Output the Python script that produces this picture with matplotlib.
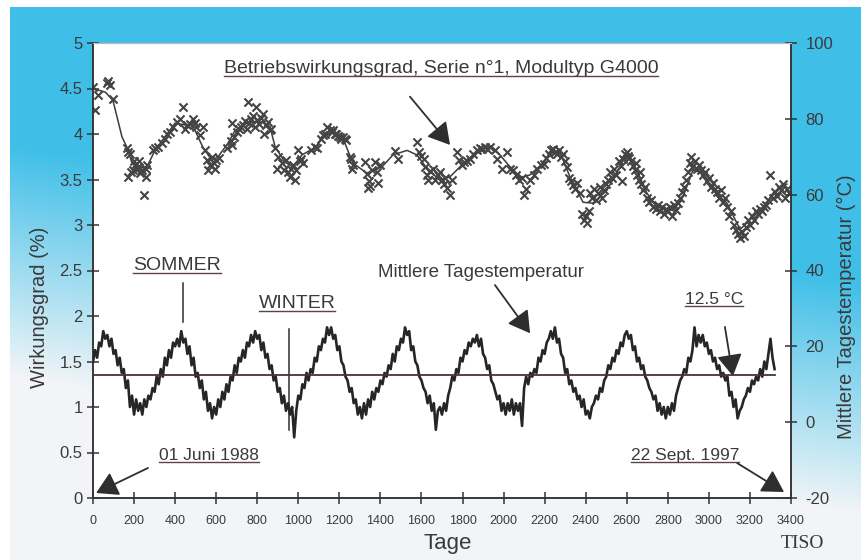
import matplotlib
matplotlib.use('Agg')
import matplotlib.pyplot as plt
from matplotlib.lines import Line2D
import numpy as np

plt.rcParams['font.family'] = ['Liberation Sans', 'DejaVu Sans']
plt.rcParams['axes.unicode_minus'] = False

# mittlere Tagestemperatur (°C), alle 10 Tage ab Tag 0
temp_step = 10
temp_vals = [
    16, 19, 17, 21, 20, 24, 22, 23, 20, 22,
    18, 19, 15, 17, 13, 14, 9, 11, 4, 7,
    2, 6, 3, 5, 2, 6, 4, 7, 6, 9,
    8, 12, 10, 14, 12, 17, 15, 19, 17, 21,
    20, 22, 20, 24, 21, 22, 18, 20, 15, 17,
    12, 13, 9, 11, 6, 8, 3, 5, 1, 4,
    2, 6, 4, 8, 6, 10, 8, 12, 11, 15,
    13, 17, 16, 19, 17, 21, 20, 23, 21, 24,
    22, 23, 19, 21, 17, 18, 14, 15, 11, 12,
    8, 9, 5, 7, 3, 5, 2, 4, -4, 3,
    7, 6, 10, 9, 13, 11, 14, 13, 17, 16,
    20, 19, 22, 21, 25, 23, 25, 22, 23, 19,
    20, 16, 15, 12, 11, 8, 9, 5, 6, 2,
    4, 1, 5, 2, 6, 4, 8, 6, 9, 8,
    11, 10, 13, 12, 15, 14, 18, 16, 20, 19,
    22, 21, 25, 23, 24, 19, 20, 16, 15, 12,
    11, 9, 8, 5, 7, 3, 5, -2, 3, 4,
    2, 5, 3, 7, 9, 12, 11, 14, 13, 17,
    16, 19, 18, 21, 20, 22, 21, 23, 20, 22,
    18, 17, 14, 15, 11, 10, 8, 6, 7, 3,
    5, 2, 5, 3, 6, 2, 5, 3, 5, -1,
    9, 12, 10, 13, 12, 14, 13, 17, 16, 19,
    18, 21, 22, 24, 22, 25, 21, 22, 18, 17,
    13, 14, 10, 11, 8, 9, 6, 7, 4, 6,
    2, 3, 1, 4, 5, 7, 6, 9, 8, 11,
    12, 15, 14, 17, 16, 19, 18, 21, 20, 23,
    24, 22, 23, 19, 20, 16, 17, 14, 15, 12,
    11, 9, 8, 6, 7, 3, 5, 2, 4, 1,
    4, 2, 5, 3, 7, 9, 11, 12, 14, 13,
    17, 16, 19, 25, 20, 23, 21, 23, 20, 21,
    18, 19, 16, 17, 14, 15, 12, 13, 11, 12,
    7, 8, 4, 6, 1, 3, 4, 6, 7, 9,
    8, 11, 10, 12, 11, 14, 12, 16, 14, 18,
    22, 17, 14,
]
temp_days = np.arange(len(temp_vals)) * temp_step
temp_mean = 12.5
mean_end = 3320

# Betriebswirkungsgrad - geglaettete Kurve
eff_days = [0, 30, 60, 97, 141, 166, 190, 239, 263, 302,
            351, 400, 448, 497, 536, 580, 609, 658, 692, 755,
            823, 862, 887, 935, 974, 1018, 1081, 1130, 1169, 1218,
            1266, 1334, 1408, 1461, 1530, 1578, 1627, 1690, 1739, 1788,
            1836, 1885, 1934, 1982, 2031, 2080, 2128, 2192, 2240, 2275,
            2323, 2387, 2435, 2503, 2567, 2601, 2650, 2698, 2747, 2825,
            2874, 2922, 2957, 3020, 3088, 3152, 3215, 3264, 3312, 3380]
eff_vals = [4.50, 4.48, 4.46, 4.37, 3.97, 3.85, 3.68, 3.63, 3.64, 3.82,
            3.97, 4.12, 4.10, 4.04, 3.85, 3.71, 3.75, 3.90, 4.04, 4.13,
            4.13, 4.08, 3.86, 3.69, 3.64, 3.77, 3.85, 3.99, 4.01, 3.95,
            3.68, 3.57, 3.64, 3.77, 3.82, 3.77, 3.62, 3.49, 3.53, 3.64,
            3.71, 3.82, 3.86, 3.77, 3.64, 3.52, 3.55, 3.68, 3.80, 3.80,
            3.53, 3.25, 3.24, 3.38, 3.64, 3.79, 3.60, 3.35, 3.20, 3.16,
            3.31, 3.60, 3.58, 3.38, 3.24, 2.95, 3.09, 3.19, 3.35, 3.45]

# Messpunkte (x)
mark_days = [
    0, 10, 24, 68, 75, 83, 97, 166, 172, 170,
    180, 185, 195, 200, 205, 212, 219, 225, 230, 238,
    248, 256, 258, 265, 292, 300, 318, 336, 350, 362,
    375, 392, 409, 425, 438, 448, 460, 472, 487, 495,
    503, 519, 535, 545, 553, 560, 568, 580, 588, 595,
    600, 612, 655, 670, 677, 677, 685, 700, 712, 720,
    733, 742, 750, 755, 762, 770, 778, 787, 795, 800,
    811, 818, 827, 835, 843, 852, 860, 868, 887, 895,
    903, 920, 930, 941, 950, 958, 966, 975, 982, 990,
    998, 1006, 1014, 1022, 1063, 1079, 1091, 1112, 1120, 1130,
    1140, 1154, 1162, 1169, 1178, 1185, 1195, 1202, 1210, 1218,
    1227, 1234, 1250, 1255, 1260, 1266, 1325, 1333, 1341, 1343,
    1350, 1360, 1373, 1383, 1390, 1400, 1471, 1487, 1578, 1586,
    1600, 1610, 1619, 1627, 1632, 1643, 1655, 1668, 1680, 1692,
    1700, 1708, 1716, 1724, 1739, 1749, 1773, 1781, 1795, 1806,
    1820, 1838, 1850, 1870, 1885, 1895, 1910, 1920, 1934, 1958,
    1970, 1992, 2016, 2031, 2045, 2060, 2075, 2090, 2098, 2110,
    2130, 2150, 2165, 2180, 2195, 2205, 2220, 2230, 2240, 2250,
    2260, 2270, 2280, 2290, 2300, 2310, 2320, 2330, 2340, 2350,
    2360, 2370, 2380, 2390, 2400, 2405, 2415, 2420, 2430, 2440,
    2450, 2460, 2470, 2480, 2490, 2500, 2510, 2520, 2530, 2540,
    2550, 2560, 2570, 2575, 2580, 2590, 2600, 2605, 2610, 2620,
    2630, 2640, 2645, 2650, 2660, 2665, 2670, 2680, 2690, 2700,
    2710, 2720, 2730, 2740, 2750, 2760, 2770, 2780, 2790, 2800,
    2810, 2820, 2830, 2840, 2850, 2860, 2870, 2880, 2890, 2900,
    2910, 2915, 2920, 2930, 2940, 2950, 2960, 2970, 2980, 2990,
    3000, 3010, 3020, 3030, 3040, 3050, 3060, 3070, 3080, 3090,
    3100, 3110, 3120, 3130, 3140, 3150, 3160, 3170, 3180, 3190,
    3200, 3210, 3220, 3230, 3240, 3250, 3260, 3270, 3280, 3290,
    3300, 3310, 3320, 3330, 3340, 3350, 3360, 3370, 3380, 3390,
]
mark_vals = [
    4.52, 4.26, 4.43, 4.56, 4.58, 4.54, 4.38, 3.85, 3.80, 3.53,
    3.78, 3.58, 3.60, 3.70, 3.66, 3.62, 3.64, 3.70, 3.57, 3.60,
    3.33, 3.62, 3.53, 3.66, 3.82, 3.85, 3.86, 3.90, 3.95, 4.00,
    4.02, 4.08, 4.13, 4.17, 4.30, 4.05, 4.10, 4.11, 4.17, 4.12,
    4.08, 3.99, 4.08, 3.82, 3.71, 3.60, 3.66, 3.75, 3.68, 3.62,
    3.71, 3.74, 3.85, 3.92, 4.12, 3.88, 3.97, 4.02, 4.05, 4.08,
    4.10, 4.14, 4.06, 4.35, 4.12, 4.17, 4.20, 4.08, 4.30, 4.15,
    4.11, 4.18, 4.22, 4.00, 4.10, 4.13, 4.04, 4.06, 3.85, 3.62,
    3.75, 3.68, 3.60, 3.71, 3.58, 3.53, 3.62, 3.66, 3.49, 3.60,
    3.82, 3.70, 3.73, 3.68, 3.82, 3.86, 3.85, 3.95, 3.99, 4.00,
    4.08, 4.04, 4.02, 4.04, 4.00, 4.00, 3.98, 3.97, 3.95, 3.97,
    3.94, 3.93, 3.75, 3.73, 3.62, 3.66, 3.69, 3.56, 3.41, 3.48,
    3.43, 3.60, 3.69, 3.58, 3.46, 3.66, 3.81, 3.73, 3.91, 3.80,
    3.76, 3.72, 3.64, 3.55, 3.50, 3.59, 3.62, 3.49, 3.55, 3.58,
    3.50, 3.45, 3.52, 3.41, 3.33, 3.49, 3.80, 3.71, 3.66, 3.69,
    3.70, 3.73, 3.78, 3.82, 3.85, 3.84, 3.86, 3.83, 3.86, 3.82,
    3.72, 3.62, 3.80, 3.62, 3.60, 3.55, 3.50, 3.52, 3.33, 3.40,
    3.49, 3.55, 3.62, 3.66, 3.67, 3.74, 3.78, 3.82, 3.84, 3.80,
    3.78, 3.82, 3.75, 3.78, 3.70, 3.64, 3.52, 3.48, 3.44, 3.40,
    3.46, 3.35, 3.12, 3.05, 3.10, 3.02, 3.15, 3.35, 3.30, 3.40,
    3.28, 3.35, 3.42, 3.30, 3.38, 3.45, 3.50, 3.58, 3.52, 3.62,
    3.55, 3.70, 3.65, 3.48, 3.72, 3.78, 3.80, 3.76, 3.74, 3.70,
    3.65, 3.60, 3.68, 3.55, 3.50, 3.58, 3.45, 3.38, 3.42, 3.30,
    3.25, 3.28, 3.20, 3.18, 3.22, 3.15, 3.20, 3.12, 3.18, 3.15,
    3.20, 3.10, 3.22, 3.16, 3.24, 3.30, 3.36, 3.42, 3.50, 3.58,
    3.68, 3.75, 3.64, 3.70, 3.62, 3.66, 3.60, 3.55, 3.58, 3.48,
    3.52, 3.42, 3.46, 3.40, 3.36, 3.30, 3.38, 3.25, 3.30, 3.20,
    3.10, 3.15, 3.00, 2.95, 2.90, 2.86, 2.92, 2.88, 2.98, 3.05,
    3.00, 3.10, 3.05, 3.15, 3.12, 3.18, 3.15, 3.20, 3.22, 3.28,
    3.55, 3.30, 3.36, 3.32, 3.42, 3.38, 3.45, 3.30, 3.40, 3.35,
]

x_ticks = list(range(0, 3401, 200))
y_ticks = [0, 0.5, 1, 1.5, 2, 2.5, 3, 3.5, 4, 4.5, 5]
y_labels = ['0', '0.5', '1', '1.5', '2', '2.5', '3', '3.5', '4', '4.5', '5']
t_ticks = [-20, 0, 20, 40, 60, 80, 100]

dark = '#333333'
blue = np.array([0.25, 0.75, 0.91])
pale = np.array([0.95, 0.96, 0.97])

fig = plt.figure(figsize=(8.62, 5.6), dpi=100)
fig.patch.set_facecolor('white')

# Hintergrund: Farbverlauf blau -> hell
bg = fig.add_axes([10 / 862, 0, 1 - 10 / 862, 1 - 7 / 560], zorder=-10)
u = np.linspace(0, 1, 200)[None, :]
w = np.linspace(0, 1, 200)[:, None]
f = np.clip((w - (0.46 + 0.25 * u)) / 0.42 + 0.5, 0, 1)
img = blue[None, None, :] * (1 - f[..., None]) + pale[None, None, :] * f[..., None]
bg.imshow(img, aspect='auto', extent=[0, 1, 1, 0])
bg.axis('off')

ax = fig.add_axes([93 / 862, 62 / 560, 698 / 862, 455 / 560])
ax.set_facecolor('white')
ax2 = ax.twinx()

# Wirkungsgrad
ax.plot(eff_days, eff_vals, color='#3c3c3c', lw=1.1, zorder=3)
ax.scatter(mark_days, mark_vals, marker='x', s=34, color='#444444',
           linewidths=1.5, zorder=4)

# Temperatur
ax2.plot(temp_days, temp_vals, color='#262626', lw=1.9, zorder=3)
ax2.plot([0, mean_end], [temp_mean, temp_mean], color='#4a3434', lw=1.3, zorder=4)

ax.set_xlim(0, 3400)
ax.set_ylim(0, 5)
ax2.set_ylim(-20, 100)
ax.set_xticks(x_ticks)
ax.set_yticks(y_ticks)
ax.set_yticklabels(y_labels)
ax2.set_yticks(t_ticks)

for a in (ax, ax2):
    for s in a.spines.values():
        s.set_color(dark)
        s.set_linewidth(1.1)
    a.spines['top'].set_color('#bbbbbb')
    a.spines['top'].set_linewidth(0.8)
ax.tick_params(axis='both', direction='inout', length=9, width=1.1, color=dark,
               labelcolor='#3a3a3a')
ax.tick_params(axis='x', labelsize=9, pad=8)
ax.tick_params(axis='y', labelsize=12, pad=3)
ax2.tick_params(axis='y', direction='inout', length=9, width=1.1, color=dark,
                labelcolor='#3a3a3a', labelsize=12, pad=6)

# Achsentitel
fig.text(40 / 862, 1 - 307 / 560, 'Wirkungsgrad (%)', rotation=90, fontsize=14.5,
         color='#3a3a3a', ha='center', va='center')
fig.text(846 / 862, 1 - 307 / 560, 'Mittlere Tagestemperatur (°C)', rotation=90,
         fontsize=14.5, color='#3a3a3a', ha='center', va='center')
fig.text(448 / 862, 1 - 543 / 560, 'Tage', fontsize=16, color='#3a3a3a',
         ha='center', va='center')
fig.text(802 / 862, 1 - 543 / 560, 'TISO', fontsize=14, color='#3a3a3a',
         ha='center', va='center', family=['Liberation Serif', 'DejaVu Serif'])

# Beschriftungen im Diagramm
tc = '#3a3a3a'
t_title = ax.text(1695, 4.67, 'Betriebswirkungsgrad, Serie n°1, Modultyp G4000',
                  fontsize=14, color=tc, ha='center', va='baseline')
t_som = ax.text(409, 2.505, 'SOMMER', fontsize=14, color=tc, ha='center', va='baseline')
t_win = ax.text(994, 2.088, 'WINTER', fontsize=14, color=tc, ha='center', va='baseline')
ax.text(1388, 2.43, 'Mittlere Tagestemperatur', fontsize=13.5, color=tc,
        ha='left', va='baseline')
t_125 = ax.text(3025, 2.13, '12.5 °C', fontsize=12.5, color=tc, ha='center', va='baseline')
t_jun = ax.text(565, 0.418, '01 Juni 1988', fontsize=12.5, color=tc, ha='center', va='baseline')
t_sep = ax.text(2884, 0.418, '22 Sept. 1997', fontsize=12.5, color=tc, ha='center', va='baseline')

arrow = dict(arrowstyle='-|>,head_length=0.6,head_width=0.35', color='#2e2e2e',
             lw=1.3, mutation_scale=22, shrinkA=0, shrinkB=0)
ax.annotate('', xy=(1739, 3.88), xytext=(1544, 4.41), arrowprops=arrow, zorder=6)
ax.annotate('', xy=(2129, 1.81), xytext=(1958, 2.34), arrowprops=arrow, zorder=6)
ax.annotate('', xy=(3117, 1.34), xytext=(3078, 1.88), arrowprops=arrow, zorder=6)
ax.annotate('', xy=(15, 0.055), xytext=(268, 0.33), arrowprops=arrow, zorder=6)
ax.annotate('', xy=(3366, 0.066), xytext=(3137, 0.385), arrowprops=arrow, zorder=6)

# Markierungslinien Sommer / Winter
ax.plot([438, 438], [2.36, 1.93], color='#2e2e2e', lw=1.1, zorder=5)
ax.plot([955, 955], [1.86, 0.75], color='#2e2e2e', lw=1.1, zorder=5)

# Unterstreichungen
fig.canvas.draw()
renderer = fig.canvas.get_renderer()
inv = fig.transFigure.inverted()
for t in (t_title, t_som, t_win, t_125, t_jun, t_sep):
    bb = t.get_window_extent(renderer)
    (x0, y0), (x1, _) = inv.transform([(bb.x0, bb.y0 + 1), (bb.x1, bb.y0 + 1)])
    fig.add_artist(Line2D([x0, x1], [y0, y0], transform=fig.transFigure,
                          color='#5a4444', lw=1.0))

fig.savefig('out.png', dpi=100)
